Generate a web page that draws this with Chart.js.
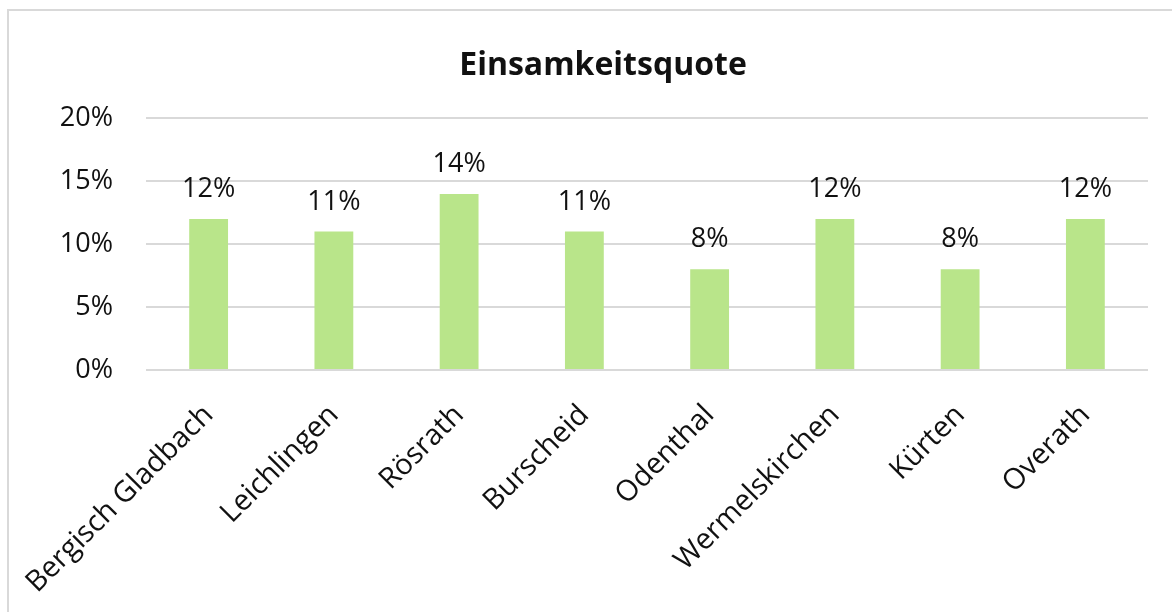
<!DOCTYPE html>
<html>
<head>
<meta charset="utf-8">
<script src="https://cdn.jsdelivr.net/npm/chart.js@4/dist/chart.umd.min.js"></script>
<style>
  html, body { margin: 0; padding: 0; background: #fff; overflow: hidden; width: 1172px; height: 612px; }
  #frame { position: absolute; left: 7px; top: 9px; width: 1200px; height: 700px; border: 2px solid #d9d9d9; box-sizing: border-box; }
  #c { position: absolute; left: 0; top: 0; }
</style>
</head>
<body>
<div id="frame"></div>
<canvas id="c" width="1172" height="612"></canvas>
<script>
const chartTitle = 'Einsamkeitsquote';
const categories = ['Bergisch Gladbach', 'Leichlingen', 'Rösrath', 'Burscheid', 'Odenthal', 'Wermelskirchen', 'Kürten', 'Overath'];
const quota = [0.12, 0.11, 0.14, 0.11, 0.08, 0.12, 0.08, 0.12];
const yTicks = [0, 0.05, 0.10, 0.15, 0.20];

const FONT = "'Open Sans', sans-serif";
const pct = v => Math.round(v * 100) + '%';

const valueLabels = {
  id: 'valueLabels',
  afterDatasetsDraw(chart) {
    const ctx = chart.ctx;
    const meta = chart.getDatasetMeta(0);
    ctx.save();
    ctx.font = '27px ' + FONT;
    ctx.fillStyle = '#111';
    ctx.textAlign = 'center';
    ctx.textBaseline = 'alphabetic';
    meta.data.forEach((bar, i) => {
      ctx.fillText(pct(chart.data.datasets[0].data[i]), bar.x, bar.y - 22);
    });
    ctx.restore();
  }
};

new Chart(document.getElementById('c'), {
  type: 'bar',
  data: {
    labels: categories,
    datasets: [{
      data: quota,
      backgroundColor: '#b9e58a',
      borderWidth: 0,
      categoryPercentage: 1,
      barPercentage: 0.31
    }]
  },
  options: {
    responsive: false,
    devicePixelRatio: 1,
    animation: false,
    layout: { padding: { left: 58, right: 24, top: 0, bottom: 0 } },
    plugins: {
      legend: { display: false },
      tooltip: { enabled: false },
      title: {
        display: true,
        text: chartTitle,
        color: '#111',
        font: { family: FONT, size: 32, weight: 'bold' },
        padding: { top: 47, bottom: 33 }
      }
    },
    scales: {
      x: {
        grid: { display: false, drawTicks: false },
        border: { display: false },
        ticks: {
          color: '#111',
          font: { family: FONT, size: 29 },
          maxRotation: 45,
          minRotation: 45,
          autoSkip: false,
          padding: 28
        },
        afterFit(scale) {
          scale.height = 612 - 370;
          scale.paddingLeft = 0;
          scale.paddingRight = 0;
        }
      },
      y: {
        min: 0,
        max: 0.20,
        afterBuildTicks(scale) { scale.ticks = yTicks.map(v => ({ value: v })); },
        grid: { color: '#d9d9d9', lineWidth: 2, drawTicks: false },
        border: { display: false },
        ticks: {
          color: '#111',
          font: { family: FONT, size: 27 },
          padding: 33,
          callback: v => pct(v)
        },
        afterFit(scale) { scale.width = 88; }
      }
    }
  },
  plugins: [valueLabels]
});
</script>
</body>
</html>
